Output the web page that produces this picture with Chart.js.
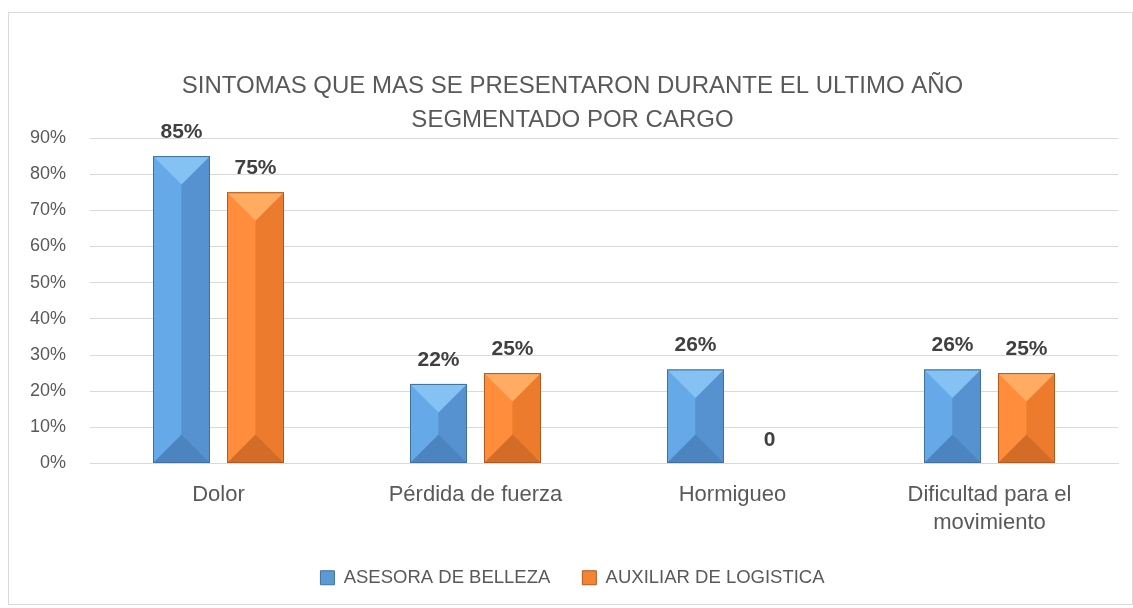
<!DOCTYPE html>
<html>
<head>
<meta charset="utf-8">
<script src="https://cdn.jsdelivr.net/npm/chart.js@4"></script>
<style>
  body { margin: 0; background: #fff; }
  #wrap { position: absolute; left: 8px; top: 12px; width: 1123px; height: 591px; border: 1px solid #d9d9d9; }
</style>
</head>
<body>
<div id="wrap"><canvas id="chart"></canvas></div>
<script>
const categories = ['Dolor', 'Pérdida de fuerza', 'Hormigueo', ['Dificultad para el', 'movimiento']];
const asesora = [0.85, 0.22, 0.26, 0.26];
const auxiliar = [0.75, 0.25, 0, 0.25];
const seriesNames = ['ASESORA DE BELLEZA', 'AUXILIAR DE LOGISTICA'];
const yTicks = [0, 0.1, 0.2, 0.3, 0.4, 0.5, 0.6, 0.7, 0.8, 0.9];

const FONT = "'Liberation Sans', Arial, sans-serif";

const shades = [
  { left: '#65a9e8', right: '#5692cf', top: '#84c2f4', bottom: '#4c84bf', edge: '#41719c' },
  { left: '#ff8d3b', right: '#ec7b2d', top: '#ffab62', bottom: '#d26c26', edge: '#ae5a21' }
];

// bevel look + value labels
const bevelPlugin = {
  id: 'bevel',
  afterDatasetsDraw(chart) {
    const ctx = chart.ctx;
    chart.data.datasets.forEach((ds, di) => {
      const s = shades[di];
      chart.getDatasetMeta(di).data.forEach((bar, i) => {
        const w = bar.width, l = bar.x - w / 2, r = bar.x + w / 2;
        const t = bar.y, b = bar.base;
        const h = b - t;
        if (h > 0.5) {
          const bev = Math.min(w / 2, h / 2);
          ctx.save();
          ctx.fillStyle = s.left;
          ctx.fillRect(l, t, w / 2, h);
          ctx.fillStyle = s.right;
          ctx.fillRect(bar.x, t, w / 2, h);
          ctx.fillStyle = s.top;
          ctx.beginPath();
          ctx.moveTo(l, t); ctx.lineTo(r, t); ctx.lineTo(bar.x, t + bev); ctx.closePath(); ctx.fill();
          ctx.fillStyle = s.bottom;
          ctx.beginPath();
          ctx.moveTo(l, b); ctx.lineTo(r, b); ctx.lineTo(bar.x, b - bev); ctx.closePath(); ctx.fill();
          ctx.strokeStyle = s.edge;
          ctx.lineWidth = 1;
          ctx.strokeRect(l + 0.5, t + 0.5, w - 1, h - 1);
          ctx.restore();
        }
        const v = ds.data[i];
        ctx.save();
        ctx.fillStyle = '#404040';
        ctx.font = 'bold 21px ' + FONT;
        ctx.textAlign = 'center';
        ctx.textBaseline = 'alphabetic';
        ctx.fillText(v === 0 ? '0' : Math.round(v * 100) + '%', bar.x, t - 18);
        ctx.restore();
      });
    });
  }
};

new Chart(document.getElementById('chart'), {
  type: 'bar',
  data: {
    labels: categories,
    datasets: [
      { label: seriesNames[0], data: asesora, backgroundColor: '#5b9bd5', borderColor: '#41719c', borderWidth: 1 },
      { label: seriesNames[1], data: auxiliar, backgroundColor: '#f58431', borderColor: '#ae5a21', borderWidth: 1 }
    ]
  },
  options: {
    responsive: true,
    maintainAspectRatio: false,
    animation: false,
    categoryPercentage: 0.576,
    barPercentage: 0.77,
    layout: { padding: { left: 18, right: 14, top: 0, bottom: 7 } },
    plugins: {
      title: {
        display: true,
        text: ['SINTOMAS QUE MAS SE PRESENTARON DURANTE EL ULTIMO AÑO', 'SEGMENTADO POR CARGO'],
        color: '#595959',
        font: { family: FONT, size: 24, weight: 'normal', lineHeight: 1.417 },
        padding: { top: 56, bottom: 1 }
      },
      legend: {
        position: 'bottom',
        labels: {
          color: '#595959',
          font: { family: FONT, size: 18.5 },
          boxWidth: 14, boxHeight: 14,
          padding: 32
        }
      },
      tooltip: { enabled: false }
    },
    scales: {
      x: {
        grid: { display: false, drawTicks: false },
        border: { color: '#d9d9d9' },
        ticks: { color: '#595959', font: { family: FONT, size: 22, lineHeight: 1.25 }, padding: 18 },
        afterFit(axis) { axis.height = 73; }
      },
      y: {
        min: 0, max: 0.9,
        afterBuildTicks(axis) { axis.ticks = yTicks.map(v => ({ value: v })); },
        grid: { color: '#d9d9d9', drawTicks: false },
        border: { display: false },
        ticks: {
          color: '#595959',
          font: { family: FONT, size: 18 },
          padding: 24,
          callback: v => Math.round(v * 100) + '%'
        },
        afterFit(axis) { axis.width = 63; }
      }
    }
  },
  plugins: [bevelPlugin]
});
</script>
</body>
</html>
